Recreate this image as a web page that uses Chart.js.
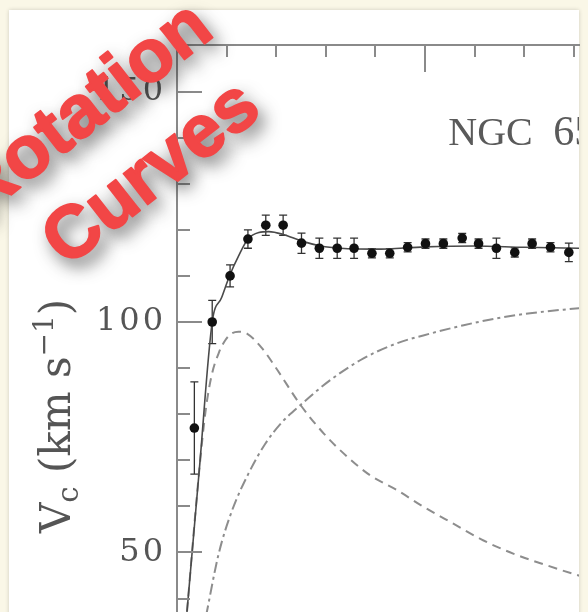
<!DOCTYPE html>
<html><head><meta charset="utf-8">
<script src="https://cdn.jsdelivr.net/npm/chart.js@4.4.1/dist/chart.umd.min.js"></script>
<style>
html,body{margin:0;padding:0;width:588px;height:612px;overflow:hidden;background:#faf7e7;}
#panel{position:absolute;left:9px;top:10px;width:570px;height:640px;background:#fff;box-shadow:0 0 4px rgba(0,0,0,0.18);}
#c{position:absolute;left:0;top:0;width:588px;height:612px;}
</style></head><body>
<div id="panel"></div>
<canvas id="c" width="588" height="612"></canvas>
<script>
// observed rotation curve (radius in axis units, velocity km/s, error km/s)
const radius = [0.35,0.71,1.07,1.43,1.79,2.14,2.51,2.87,3.23,3.57,3.93,4.29,4.65,5.01,5.37,5.75,6.08,6.44,6.81,7.16,7.53,7.90];
const vobs   = [77.0,100.0,110.0,118.0,121.0,121.0,117.1,116.0,116.0,116.0,114.9,114.9,116.2,117.0,117.0,118.2,117.0,116.0,115.1,117.0,116.2,115.1];
const verr   = [10,4.7,2.4,2,2.2,2.2,2.2,2.2,2.2,2.2,1,1,1,1,1,1,1,2.2,1,1,1,2];
// total fit (solid)
const fitR = [0.15,0.20,0.45,0.71,0.90,1.07,1.25,1.43,1.65,1.85,2.14,2.50,2.90,3.30,4.00,5.00,6.00,7.00,8.20];
const fitV = [30.8,37,68,100,105.3,110.3,114.5,118,119.4,119.6,119,117.6,116.5,116,115.8,116.3,116.5,116.2,116];
// disk (dashed)
const diskR = [0.15,0.20,0.45,0.58,0.70,0.85,0.97,1.10,1.24,1.41,1.70,1.98,2.49,2.96,3.43,3.90,4.44,4.97,5.58,6.18,6.79,7.46,8.10,8.30];
const diskV = [30.8,37,68,81,88.5,93.5,96,97.5,97.9,97.5,94.5,90.3,82,75.8,70.8,66.7,63.5,59.9,56.2,52.6,49.7,47.2,45,44.4];
// halo (dash-dot)
const haloR = [0.50,0.60,0.84,1.11,1.44,1.78,2.12,2.49,3.09,3.76,4.44,5.11,5.78,6.45,7.12,8.10,8.30];
const haloV = [31.5,37,49.7,59.1,67.1,73.6,78.3,82,87.4,92.1,95.4,97.5,99.3,100.8,101.9,103,103.2];
// axis ticks
const xTicks = [1,2,3,4,5,6,7,8];
const xMajor = [5];
const yTicks = [40,50,60,70,80,90,100,110,120,130,140,150,160];
const yMajor = [50,100,150];
const yLabels = [50,100,150];
const X_MIN = 0, X_MAX = 8.105, Y_MIN = 37.09, Y_MAX = 160.09;

const pts = (xs, ys) => xs.map((x, i) => ({x, y: ys[i]}));
const noPad = s => { s.paddingTop = 0; s.paddingBottom = 0; s.paddingLeft = 0; s.paddingRight = 0; };

const styleLetters = {
  id: 'styleLetters',
  beforeDraw(chart){ chart.ctx.letterSpacing = '3px'; },
  beforeDatasetsDraw(chart){
    chart.ctx.letterSpacing = '0px';
    const {ctx, scales:{x, y}} = chart;
    ctx.save();
    ctx.strokeStyle = '#333';
    ctx.lineWidth = 1.3;
    radius.forEach((r, i) => {
      const px = x.getPixelForValue(r);
      const y1 = y.getPixelForValue(vobs[i] + verr[i]);
      const y2 = y.getPixelForValue(vobs[i] - verr[i]);
      ctx.beginPath();
      ctx.moveTo(px, y1); ctx.lineTo(px, y2);
      ctx.moveTo(px - 4, y1); ctx.lineTo(px + 4, y1);
      ctx.moveTo(px - 4, y2); ctx.lineTo(px + 4, y2);
      ctx.stroke();
    });
    ctx.restore();
  }
};

const tickMarks = {
  id: 'tickMarks',
  afterDatasetsDraw(chart){
    const {ctx, chartArea:a, scales:{x, y}} = chart;
    ctx.save();
    ctx.strokeStyle = '#8a8a8a';
    ctx.lineWidth = 2;
    ctx.beginPath();
    yTicks.forEach(v => {
      const py = Math.round(y.getPixelForValue(v));
      const len = yMajor.includes(v) ? 25 : 13;
      ctx.moveTo(a.left, py); ctx.lineTo(a.left + len, py);
    });
    xTicks.forEach(v => {
      const px = Math.round(x.getPixelForValue(v));
      const len = xMajor.includes(v) ? 27 : 12;
      ctx.moveTo(px, a.top); ctx.lineTo(px, a.top + len);
    });
    ctx.stroke();
    ctx.restore();
  }
};

const texts = {
  id: 'texts',
  afterDraw(chart){
    const {ctx, chartArea:a, scales:{x, y}} = chart;
    ctx.save();
    // galaxy label, clipped to the plot panel
    ctx.save();
    ctx.beginPath();
    ctx.rect(a.left, a.top, a.right - a.left, a.bottom - a.top);
    ctx.clip();
    ctx.fillStyle = '#5a5a5a';
    ctx.textAlign = 'left';
    ctx.textBaseline = 'alphabetic';
    const lx = x.getPixelForValue(5.47), ly = y.getPixelForValue(138.4);
    ctx.font = '40px "Liberation Serif"';
    ctx.fillText('NGC', lx, ly);
    ctx.font = '42px "Liberation Serif"';
    ctx.fillText('6503', lx + 105, ly);
    ctx.restore();
    // y axis title
    ctx.save();
    ctx.translate(70, 533);
    ctx.rotate(-Math.PI / 2);
    ctx.fillStyle = '#555';
    let cx = 0;
    const part = (t, size, dy) => {
      ctx.font = size + 'px "DejaVu Serif"';
      ctx.fillText(t, cx, dy);
      cx += ctx.measureText(t).width;
    };
    part('V', 42, 0);
    part('c', 29, 8);
    part(' (km s', 42, 0);
    part('\u22121', 28, -17);
    part(')', 42, 0);
    ctx.restore();
    // overlay title
    const lines = [['Rotation', 98, 127], ['Curves', 165, 191]];
    ctx.font = 'bold 74px "Liberation Sans"';
    ctx.textAlign = 'center';
    lines.forEach(([t, tx, ty]) => {
      ctx.save();
      ctx.translate(tx, ty);
      ctx.rotate(-38 * Math.PI / 180);
      ctx.shadowColor = 'rgba(30,30,30,0.72)';
      ctx.shadowBlur = 17;
      ctx.shadowOffsetX = 6;
      ctx.shadowOffsetY = 8;
      ctx.fillStyle = '#f24646';
      ctx.fillText(t, 0, 0);
      ctx.shadowColor = 'transparent';
      ctx.lineJoin = 'round';
      ctx.lineWidth = 2;
      ctx.strokeStyle = '#f24646';
      ctx.strokeText(t, 0, 0);
      ctx.restore();
    });
    ctx.restore();
  }
};

new Chart(document.getElementById('c'), {
  type: 'scatter',
  data: {
    datasets: [
      {label: 'observed', data: pts(radius, vobs), showLine: false, pointRadius: 4.8, pointBackgroundColor: '#111', pointBorderWidth: 0, order: 0},
      {label: 'total', data: pts(fitR, fitV), showLine: true, borderColor: '#4a4a4a', borderWidth: 1.6, pointRadius: 0, cubicInterpolationMode: 'monotone', order: 1},
      {label: 'disk', data: pts(diskR, diskV), showLine: true, borderColor: '#8d8d8d', borderWidth: 2, borderDash: [9, 6], pointRadius: 0, cubicInterpolationMode: 'monotone', order: 2},
      {label: 'halo', data: pts(haloR, haloV), showLine: true, borderColor: '#8d8d8d', borderWidth: 2, borderDash: [11, 4, 3, 4], pointRadius: 0, cubicInterpolationMode: 'monotone', order: 3}
    ]
  },
  options: {
    responsive: false,
    animation: false,
    layout: {autoPadding: false, padding: {left: 0, top: 0, right: 9, bottom: 0}},
    plugins: {legend: {display: false}, tooltip: {enabled: false}},
    scales: {
      x: {
        type: 'linear', position: 'top', min: X_MIN, max: X_MAX,
        ticks: {display: false, stepSize: 1},
        grid: {display: false, drawTicks: false},
        border: {display: true, color: '#8a8a8a', width: 2},
        afterFit(s){ s.height = 45; noPad(s); }
      },
      y: {
        type: 'linear', position: 'left', min: Y_MIN, max: Y_MAX,
        ticks: {
          stepSize: 10, autoSkip: false, padding: 11, color: '#555',
          font: {family: 'DejaVu Serif', size: 32},
          callback: v => yLabels.some(l => Math.abs(l - v) < 1e-6) ? String(v) : ''
        },
        grid: {display: false, drawTicks: false},
        border: {display: true, color: '#8a8a8a', width: 2},
        afterFit(s){ s.width = 177; noPad(s); }
      }
    }
  },
  plugins: [styleLetters, tickMarks, texts]
});
</script>
</body></html>
